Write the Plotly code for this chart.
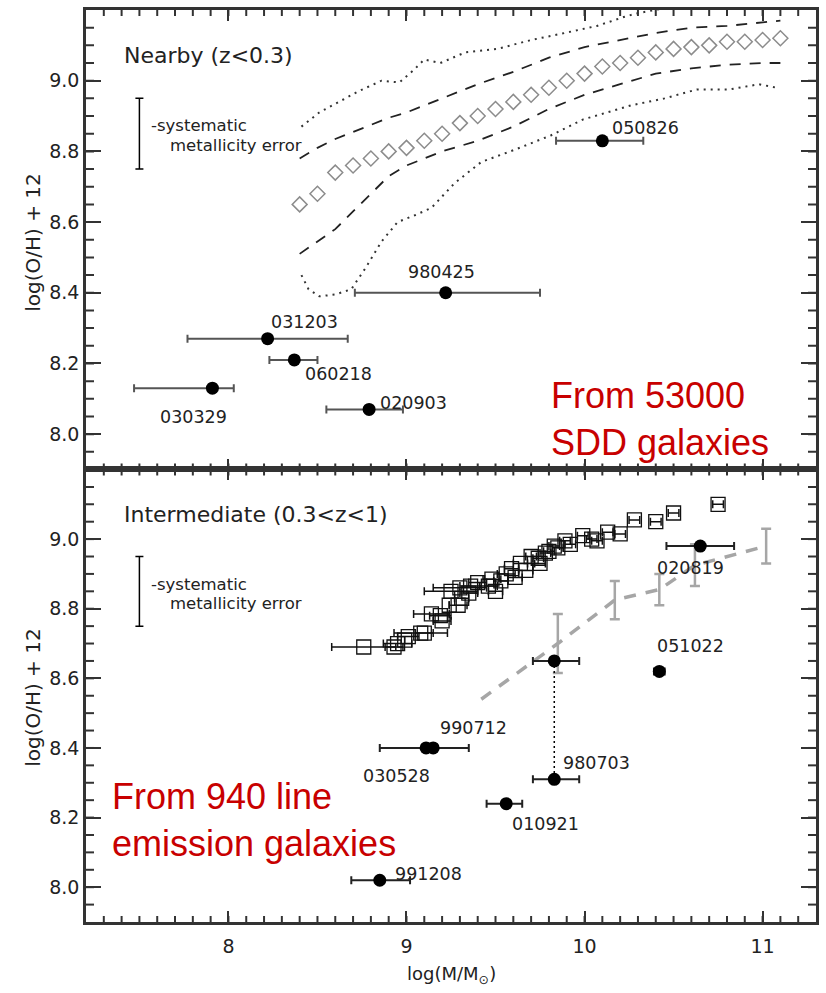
import plotly.graph_objects as go

# ---------------- data ----------------
# Nearby galaxies: median mass-metallicity relation (open diamonds)
sdss_mass = [8.4, 8.5, 8.6, 8.7, 8.8, 8.9, 9.0, 9.1, 9.2, 9.3, 9.4, 9.5, 9.6, 9.7,
             9.8, 9.9, 10.0, 10.1, 10.2, 10.3, 10.4, 10.5, 10.6, 10.7, 10.8, 10.9, 11.0, 11.1]
sdss_oh = [8.65, 8.68, 8.74, 8.76, 8.78, 8.80, 8.81, 8.83, 8.85, 8.88, 8.90, 8.92, 8.94, 8.96,
           8.98, 9.00, 9.02, 9.04, 9.05, 9.065, 9.08, 9.09, 9.095, 9.10, 9.11, 9.11, 9.115, 9.12]

# 16/84 percentile contours (dashed)
band_mass = [8.4, 8.5, 8.6, 8.7, 8.8, 8.9, 9.0, 9.2, 9.4, 9.6, 9.8, 10.0, 10.2, 10.4, 10.6, 10.8, 11.0, 11.1]
band_hi = [8.78, 8.81, 8.835, 8.855, 8.875, 8.895, 8.91, 8.95, 8.99, 9.025, 9.065, 9.095, 9.115,
           9.135, 9.15, 9.155, 9.165, 9.17]
band_lo = [8.51, 8.545, 8.58, 8.63, 8.68, 8.73, 8.76, 8.80, 8.83, 8.87, 8.92, 8.96, 8.99,
           9.02, 9.035, 9.045, 9.05, 9.05]

# 2.5/97.5 percentile contours (dotted)
outer_hi_mass = [8.41, 8.51, 8.62, 8.73, 8.86, 8.96, 9.04, 9.10, 9.19, 9.33, 9.51, 9.70, 9.89,
                 10.07, 10.22, 10.29, 10.5, 10.8, 11.1]
outer_hi = [8.87, 8.91, 8.94, 8.97, 9.00, 8.995, 9.03, 9.06, 9.05, 9.08, 9.09, 9.115, 9.135,
            9.155, 9.18, 9.19, 9.21, 9.22, 9.23]
outer_lo_mass = [8.41, 8.45, 8.51, 8.60, 8.69, 8.77, 8.86, 8.95, 9.05, 9.14, 9.27, 9.42, 9.61,
                 9.81, 9.99, 10.26, 10.45, 10.63, 10.81, 10.98, 11.08]
outer_lo = [8.45, 8.41, 8.39, 8.395, 8.41, 8.47, 8.545, 8.60, 8.62, 8.64, 8.71, 8.77, 8.805,
            8.845, 8.89, 8.93, 8.95, 8.975, 8.975, 8.99, 8.98]

# Nearby GRB hosts
near_names = ["050826", "980425", "031203", "060218", "030329", "020903"]
near_mass = [10.10, 9.22, 8.22, 8.37, 7.91, 8.79]
near_oh = [8.83, 8.40, 8.27, 8.21, 8.13, 8.07]
near_err_minus = [0.26, 0.51, 0.45, 0.14, 0.44, 0.24]
near_err_plus = [0.23, 0.53, 0.45, 0.13, 0.12, 0.19]

# Intermediate-redshift field galaxies (open squares)
inter_mass = [8.76, 8.93, 8.95, 8.99, 9.01, 9.08, 9.10, 9.14, 9.19, 9.20, 9.24, 9.29, 9.31,
              9.25, 9.30, 9.36, 9.40, 9.35, 9.46, 9.50, 9.48, 9.53, 9.56, 9.59, 9.61, 9.64,
              9.67, 9.70, 9.74, 9.75, 9.78, 9.80, 9.83, 9.85, 9.89, 9.92, 9.99, 10.04, 10.07,
              10.13, 10.20, 10.28, 10.40, 10.50, 10.75]
inter_oh = [8.69, 8.69, 8.70, 8.71, 8.72, 8.73, 8.73, 8.785, 8.78, 8.765, 8.81, 8.81, 8.83,
            8.85, 8.86, 8.865, 8.875, 8.845, 8.865, 8.85, 8.885, 8.88, 8.90, 8.915, 8.89, 8.93,
            8.91, 8.95, 8.945, 8.93, 8.96, 8.965, 8.98, 8.975, 8.995, 8.985, 9.01, 9.00, 8.995,
            9.02, 9.015, 9.055, 9.05, 9.075, 9.10]
inter_err = [0.18, 0.05, 0.08, 0.0, 0.06, 0.15, 0.05, 0.10, 0.06, 0.05, 0.0, 0.05, 0.04,
             0.15, 0.15, 0.06, 0.05, 0.05, 0.05, 0.04, 0.05, 0.04, 0.05, 0.04, 0.04, 0.04,
             0.04, 0.03, 0.03, 0.03, 0.03, 0.03, 0.03, 0.03, 0.03, 0.03, 0.03, 0.03, 0.03,
             0.03, 0.03, 0.03, 0.03, 0.03, 0.03]

# Binned relation at z~0.7 (grey dashed with error bars)
bin_mass = [9.42, 9.85, 10.17, 10.42, 10.62, 11.02]
bin_oh = [8.54, 8.70, 8.825, 8.855, 8.925, 8.98]
bin_err = [0.0, 0.085, 0.055, 0.045, 0.06, 0.05]

# Intermediate-redshift GRB hosts
mid_names = ["020819", "051022", "", "980703", "010921", "990712", "030528", "991208"]
mid_mass = [10.65, 10.42, 9.83, 9.83, 9.56, 9.15, 9.11, 8.85]
mid_oh = [8.98, 8.62, 8.65, 8.31, 8.24, 8.40, 8.40, 8.02]
mid_err_minus = [0.19, 0.03, 0.12, 0.12, 0.11, 0.05, 0.26, 0.16]
mid_err_plus = [0.19, 0.03, 0.14, 0.14, 0.09, 0.20, 0.04, 0.17]

# label anchor positions (left edge, vertical centre)
near_label_x = [10.144, 9.0, 8.228, 8.418, 7.602, 8.842]
near_label_y = [8.865, 8.459, 8.318, 8.169, 8.048, 8.087]
mid_label_x = [10.396, 10.396, 0, 9.865, 9.58, 9.178, 8.747, 8.926]
mid_label_y = [8.917, 8.693, 0, 8.356, 8.181, 8.457, 8.319, 8.037]

# systematic error bar
sys_mass = [7.5]
sys_oh = [8.85]
sys_err = [0.10]

# axis extents and tick values
mass_range = [7.2, 11.3]
oh_range = [7.9, 9.2]
mass_ticks = [8, 9, 10, 11]
oh_ticks = [8.0, 8.2, 8.4, 8.6, 8.8, 9.0]
mass_minor = [round(7.3 + 0.1 * i, 2) for i in range(40)]
oh_minor = [round(7.95 + 0.05 * i, 3) for i in range(25)]

# ---------------- figure ----------------
FONT = "DejaVu Sans"
INK = "#222222"
FRAME = "#333333"
fig = go.Figure()

top = dict(xaxis="x", yaxis="y")
bot = dict(xaxis="x2", yaxis="y2")

# top panel
fig.add_trace(go.Scatter(x=outer_hi_mass, y=outer_hi, mode="lines",
                         line=dict(color="#333", width=2, dash="2px,5px"), **top))
fig.add_trace(go.Scatter(x=outer_lo_mass, y=outer_lo, mode="lines",
                         line=dict(color="#333", width=2, dash="2px,5px"), **top))
fig.add_trace(go.Scatter(x=band_mass, y=band_hi, mode="lines",
                         line=dict(color=INK, width=1.8, dash="11px,9px"), **top))
fig.add_trace(go.Scatter(x=band_mass, y=band_lo, mode="lines",
                         line=dict(color=INK, width=1.8, dash="11px,9px"), **top))
fig.add_trace(go.Scatter(x=sdss_mass, y=sdss_oh, mode="markers",
                         marker=dict(symbol="diamond-open", size=11.5, color="#8c8c8c",
                                     line=dict(width=1.5, color="#8c8c8c")), **top))
fig.add_trace(go.Scatter(x=near_mass, y=near_oh, mode="markers",
                         marker=dict(symbol="circle", size=13, color="black"),
                         error_x=dict(type="data", symmetric=False, array=near_err_plus,
                                      arrayminus=near_err_minus, color="#555", thickness=2, width=4),
                         **top))

# bottom panel
fig.add_trace(go.Scatter(x=inter_mass, y=inter_oh, mode="markers",
                         marker=dict(symbol="square-open", size=14, color="#111",
                                     line=dict(width=1.3, color="#111")),
                         error_x=dict(type="data", array=inter_err, color="#111",
                                      thickness=1.5, width=4),
                         **bot))
fig.add_trace(go.Scatter(x=bin_mass, y=bin_oh, mode="lines",
                         line=dict(color="#a6a6a6", width=3.5, dash="12px,10px"), **bot))
fig.add_trace(go.Scatter(x=bin_mass[1:], y=bin_oh[1:], mode="markers",
                         marker=dict(size=1, color="rgba(0,0,0,0)"),
                         error_y=dict(type="data", array=bin_err[1:], color="#a6a6a6",
                                      thickness=2.5, width=5),
                         **bot))
fig.add_trace(go.Scatter(x=[mid_mass[2], mid_mass[3]], y=[mid_oh[2], mid_oh[3]], mode="lines",
                         line=dict(color="black", width=1.5, dash="2px,3px"), **bot))
fig.add_trace(go.Scatter(x=mid_mass, y=mid_oh, mode="markers",
                         marker=dict(symbol="circle", size=13, color="black"),
                         error_x=dict(type="data", symmetric=False, array=mid_err_plus,
                                      arrayminus=mid_err_minus, color="#222", thickness=2, width=4),
                         **bot))

# systematic error bars in both panels
for ax in (top, bot):
    fig.add_trace(go.Scatter(x=sys_mass, y=sys_oh, mode="markers",
                             marker=dict(size=1, color="rgba(0,0,0,0)"),
                             error_y=dict(type="data", array=sys_err, color="black",
                                          thickness=1.5, width=4),
                             **ax))

annotations = []


def label(text, x, y, xref, yref, size=17.5, xanchor="left", yanchor="middle", color=INK,
          family=FONT, align="left"):
    annotations.append(dict(text=text, x=x, y=y, xref=xref, yref=yref, showarrow=False,
                            xanchor=xanchor, yanchor=yanchor, align=align,
                            font=dict(family=family, size=size, color=color)))


for n, lx, ly in zip(near_names, near_label_x, near_label_y):
    label(n, lx, ly, "x", "y")
for n, lx, ly in zip(mid_names, mid_label_x, mid_label_y):
    if n:
        label(n, lx, ly, "x2", "y2")

label("Nearby (z&lt;0.3)", 7.4, 9.07, "x", "y", size=22)
label("Intermediate (0.3&lt;z&lt;1)", 7.4, 9.072, "x2", "y2", size=22)

label("-systematic", 7.556, 8.872, "x", "y", size=16.5)
label("metallicity error", 7.658, 8.818, "x", "y", size=16.5)
label("-systematic", 7.556, 8.869, "x2", "y2", size=16.5)
label("metallicity error", 7.658, 8.814, "x2", "y2", size=16.5)

label("From 53000<br>SDD galaxies", 9.803, 8.044, "x", "y", size=36,
      color="#c80000", family="Liberation Sans")
label("From 940 line<br>emission galaxies", 7.334, 8.192, "x2", "y2", size=36,
      color="#c80000", family="Liberation Sans")

label("log(O/H) + 12", -0.0737, 0.745, "paper", "paper", size=20, xanchor="center",
      align="center")
annotations[-1]["textangle"] = -90
label("log(O/H) + 12", -0.0737, 0.246, "paper", "paper", size=20, xanchor="center",
      align="center")
annotations[-1]["textangle"] = -90
label("log(M/M<sub>⊙</sub>)", 0.5, -0.058, "paper", "paper", size=18, xanchor="center",
      align="center")

# short minor ticks drawn inside every side of both frames
shapes = []
tick_line = dict(color=FRAME, width=2)
for xr, yr in (("x", "y"), ("x2", "y2")):
    for v in mass_minor:
        for anchor, length in ((0, 6), (1, -6)):
            shapes.append(dict(type="line", xref=xr, yref=yr + " domain", ysizemode="pixel",
                               yanchor=anchor, y0=0, y1=length, x0=v, x1=v, line=tick_line,
                               layer="above"))
    for v in oh_minor:
        for anchor, length in ((0, 8), (1, -8)):
            shapes.append(dict(type="line", xref=xr + " domain", yref=yr, xsizemode="pixel",
                               xanchor=anchor, x0=0, x1=length, y0=v, y1=v, line=tick_line,
                               layer="above"))

SPLIT = 454 / 915

common = dict(showline=True, linecolor=FRAME, linewidth=2.5, mirror="allticks",
              ticks="inside", tickwidth=2, tickcolor=FRAME,
              showgrid=False, zeroline=False,
              tickfont=dict(family=FONT, size=19, color=INK))
xcommon = dict(common, range=mass_range, tickmode="array", tickvals=mass_ticks, ticklen=11)
ycommon = dict(common, range=oh_range, tickmode="array", tickvals=oh_ticks, tickformat=".1f",
               ticklen=15)

fig.update_layout(
    width=826, height=993,
    margin=dict(l=86, r=7, t=7, b=71),
    paper_bgcolor="white", plot_bgcolor="white",
    showlegend=False,
    xaxis=dict(xcommon, anchor="y", domain=[0, 1], showticklabels=False),
    yaxis=dict(ycommon, anchor="x", domain=[SPLIT, 1]),
    xaxis2=dict(xcommon, anchor="y2", domain=[0, 1], ticklabelstandoff=5),
    yaxis2=dict(ycommon, anchor="x2", domain=[0, SPLIT]),
    annotations=annotations,
    shapes=shapes,
)

fig.write_html("out.html")
